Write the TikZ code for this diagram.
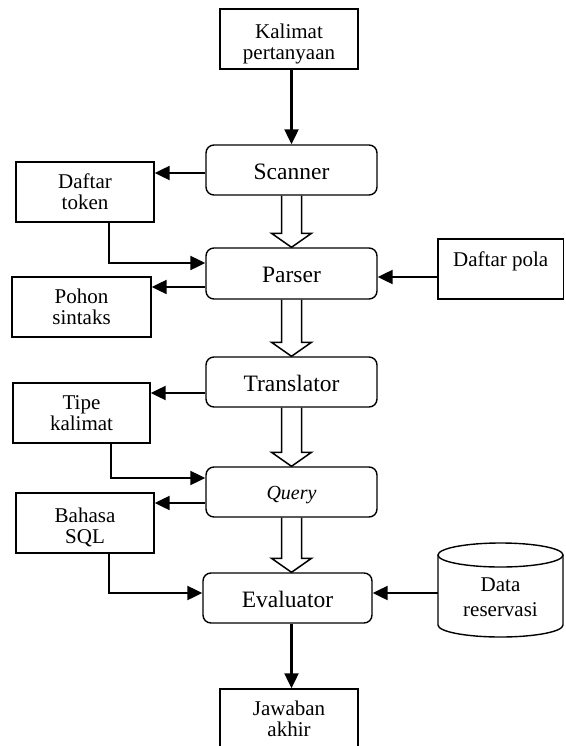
\documentclass[tikz,border=0pt]{standalone}
\usepackage{fontspec}
\setmainfont{Liberation Serif}
\usetikzlibrary{arrows.meta,calc}
\newcommand\hollowarr[2]{%
  \path (#1.south |- #2.north) coordinate (tipA);
  \draw[hollowline] ($(#1.south)+(-10,0)$) -- ($(tipA)+(-10,14)$) -- ($(tipA)+(-20,14)$) -- (tipA) -- ($(tipA)+(20,14)$) -- ($(tipA)+(10,14)$) -- ($(#1.south)+(10,0)$);}
\begin{document}
\begin{tikzpicture}[x=1pt,y=1pt,
  mainbox/.style={draw, line width=1.4pt, rounded corners=8pt, minimum width=171pt, minimum height=50pt, inner sep=0pt, font=\fontsize{23.5}{26}\selectfont, text height=18pt, text depth=0pt},
  smallbox/.style={draw, line width=1.4pt, minimum width=138pt, minimum height=60pt, inner sep=0pt, align=center, font=\fontsize{21}{21}\selectfont},
  arr/.style={line width=2.2pt, -{Triangle[length=15pt,width=14pt]}},
  hollowline/.style={line width=1.5pt, line join=miter},
  cylline/.style={line width=1.4pt}
]
\useasboundingbox (0,0) rectangle (565,-746);

\node[smallbox] (kal) at (289,-39) {\rule{0pt}{24.3pt}Kalimat\\pertanyaan};
\node[mainbox] (scan) at (291.5,-170) {Scanner};
\node[smallbox] (tok) at (85,-192) {Daftar\\token};
\node[mainbox, minimum height=51pt] (pars) at (291.5,-273.5) {Parser};
\node[smallbox, minimum width=125.5pt, text height=14.3pt, text depth=18.6pt] (pola) at (500.75,-269) {Daftar pola};
\node[smallbox, minimum width=139pt] (poh) at (81.5,-307) {Pohon\\sintaks};
\node[mainbox] (trans) at (291.5,-382) {Translator};
\node[smallbox, minimum width=137pt] (tipe) at (81.5,-413) {Tipe\\kalimat};
\node[mainbox, font=\fontsize{20}{22}\selectfont\itshape, text height=14pt] (query) at (291.5,-492) {Query};
\node[smallbox] (bhs) at (85,-523) {\rule{0pt}{24.3pt}Bahasa\\SQL};
\node[mainbox, minimum width=169pt] (eval) at (287.5,-598) {Evaluator};
\node[inner sep=0pt, outer sep=0pt, minimum width=125pt, minimum height=94pt, align=center, font=\fontsize{21}{25}\selectfont] (data) at (500.5,-590) {\rule{0pt}{28.3pt}Data\\reservasi};
\node[smallbox] (jaw) at (289,-719) {Jawaban\\akhir};

% cylinder outline
\draw[cylline] ($(data.north west)+(0,-12)$) -- ($(data.south west)+(0,12)$)
  arc[start angle=180, end angle=360, x radius=62.5pt, y radius=12pt] -- ($(data.north east)+(0,-12)$);
\draw[cylline] ($(data.north)+(0,-12)$) ellipse[x radius=62.5pt, y radius=12pt];

% connectors
\draw[arr] (kal.south -| scan.north) -- (scan.north);
\coordinate (s1) at ($(scan.west)+(0,-3)$);
\draw[arr] (s1) -- (s1 -| tok.east);
\draw[arr] ($(tok.south)+(24,0)$) |- ($(pars.west)+(0,10.5)$);
\coordinate (p1) at ($(pars.east)+(0,-3.5)$);
\draw[arr] (p1 -| pola.west) -- (p1);
\coordinate (p2) at ($(pars.west)+(0,-13.5)$);
\draw[arr] (p2) -- (p2 -| poh.east);
\coordinate (t1) at ($(trans.west)+(0,-11)$);
\draw[arr] (t1) -- (t1 -| tipe.east);
\draw[arr] ($(tipe.south)+(29.5,0)$) |- ($(query.west)+(0,14)$);
\coordinate (q1) at ($(query.west)+(0,-11)$);
\draw[arr] (q1) -- (q1 -| bhs.east);
\draw[arr] ($(bhs.south)+(24,0)$) |- ($(eval.west)+(0,5)$);
\coordinate (d1) at ($(data.west)+(0,-3)$);
\draw[arr] (d1) -- (d1 -| eval.east);
\draw[arr] (eval.south -| scan.south) -- (jaw.north -| scan.south);

% hollow arrows
\hollowarr{scan}{pars}
\hollowarr{pars}{trans}
\hollowarr{trans}{query}
\hollowarr{query}{eval}
\end{tikzpicture}
\end{document}
